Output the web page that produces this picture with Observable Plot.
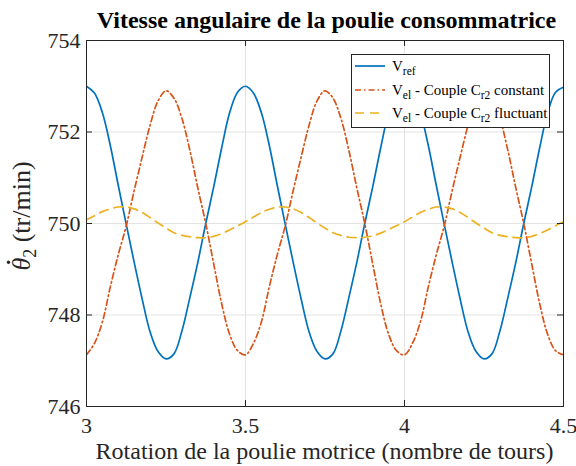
<!DOCTYPE html>
<html>
<head>
<meta charset="utf-8">
<script src="https://cdn.jsdelivr.net/npm/d3@7"></script>
<script src="https://cdn.jsdelivr.net/npm/@observablehq/plot@0.6"></script>
<style>
  html, body { margin: 0; padding: 0; background: #ffffff; }
  #chart { width: 576px; height: 466px; }
</style>
</head>
<body>
<div id="chart"></div>
<script>
// ---- Data ----
const xTurns = [
  3.000, 3.025, 3.050, 3.075, 3.100, 3.125, 3.150, 3.175, 3.200, 3.225,
  3.250, 3.275, 3.300, 3.325, 3.350, 3.375, 3.400, 3.425, 3.450, 3.475,
  3.500, 3.525, 3.550, 3.575, 3.600, 3.625, 3.650, 3.675, 3.700, 3.725,
  3.750, 3.775, 3.800, 3.825, 3.850, 3.875, 3.900, 3.925, 3.950, 3.975,
  4.000, 4.025, 4.050, 4.075, 4.100, 4.125, 4.150, 4.175, 4.200, 4.225,
  4.250, 4.275, 4.300, 4.325, 4.350, 4.375, 4.400, 4.425, 4.450, 4.475,
  4.500
];
const vRef = [
  753.00, 752.85, 752.42, 751.70, 750.83, 749.98, 749.15, 748.35, 747.63, 747.20,
  747.04, 747.15, 747.65, 748.38, 749.15, 750.00, 750.80, 751.65, 752.42, 752.87,
  753.00, 752.85, 752.42, 751.70, 750.83, 749.98, 749.15, 748.35, 747.63, 747.20,
  747.04, 747.15, 747.65, 748.38, 749.15, 750.00, 750.80, 751.65, 752.42, 752.87,
  753.00, 752.85, 752.42, 751.70, 750.83, 749.98, 749.15, 748.35, 747.63, 747.20,
  747.04, 747.15, 747.65, 748.38, 749.15, 750.00, 750.80, 751.65, 752.42, 752.87,
  752.98
];
const vElConst = [
  747.13, 747.38, 747.85, 748.62, 749.32, 749.95, 750.72, 751.45, 752.15, 752.68,
  752.90, 752.74, 752.30, 751.60, 750.78, 750.00, 749.12, 748.25, 747.58, 747.22,
  747.13, 747.38, 747.85, 748.62, 749.32, 749.95, 750.72, 751.45, 752.15, 752.68,
  752.90, 752.74, 752.30, 751.60, 750.78, 750.00, 749.12, 748.25, 747.58, 747.22,
  747.13, 747.38, 747.85, 748.62, 749.32, 749.95, 750.72, 751.45, 752.15, 752.68,
  752.90, 752.74, 752.30, 751.60, 750.78, 750.00, 749.12, 748.25, 747.58, 747.22,
  747.13
];
const vElFluct = [
  750.08, 750.17, 750.26, 750.32, 750.36, 750.36, 750.32, 750.24, 750.13, 750.01,
  749.90, 749.80, 749.74, 749.71, 749.69, 749.69, 749.72, 749.78, 749.86, 749.95,
  750.04, 750.14, 750.24, 750.31, 750.36, 750.36, 750.32, 750.24, 750.13, 750.01,
  749.90, 749.80, 749.74, 749.70, 749.69, 749.70, 749.73, 749.79, 749.87, 749.95,
  750.04, 750.14, 750.24, 750.31, 750.36, 750.36, 750.32, 750.24, 750.13, 750.01,
  749.90, 749.80, 749.74, 749.71, 749.69, 749.69, 749.72, 749.78, 749.86, 749.95,
  750.04
];
const xTicks = [3, 3.5, 4, 4.5];
const yTicks = [746, 748, 750, 752, 754];
const seriesNames = ["ref", "const", "fluct"];

// ---- Build table ----
const rows = [];
xTurns.forEach((x, i) => {
  rows.push({x, y: vRef[i], s: "ref"});
  rows.push({x, y: vElConst[i], s: "const"});
  rows.push({x, y: vElFluct[i], s: "fluct"});
});

const W = 576, H = 466;
const mL = 86, mR = 13, mT = 40, mB = 60;
const innerH = H - mT - mB, innerW = W - mL - mR;
const axisColor = "#262626";
const serif = "'Liberation Serif', 'Times New Roman', serif";
const colors = {ref: "#0072BD", const: "#D95319", fluct: "#EDB120"};
const dashes = {ref: null, const: "6,3,1.5,3", fluct: "9,6"};

const svg = Plot.plot({
  width: W, height: H,
  marginLeft: mL, marginRight: mR, marginTop: mT, marginBottom: mB,
  style: {fontFamily: serif, background: "#ffffff", color: axisColor},
  x: {domain: [3, 4.5]},
  y: {domain: [746, 754]},
  marks: [
    Plot.gridX(xTicks, {stroke: "#e3e3e3", strokeOpacity: 1, strokeWidth: 1}),
    Plot.gridY(yTicks, {stroke: "#e3e3e3", strokeOpacity: 1, strokeWidth: 1}),
    ...seriesNames.map(s => Plot.line(rows.filter(d => d.s === s), {
      x: "x", y: "y", stroke: colors[s], strokeWidth: 1.7,
      strokeDasharray: dashes[s], curve: "catmull-rom", clip: true
    })),
    // inward ticks, all four sides
    Plot.ruleX(xTicks, {stroke: axisColor, insetTop: innerH - 6}),
    Plot.ruleX(xTicks, {stroke: axisColor, insetBottom: innerH - 6}),
    Plot.ruleY(yTicks, {stroke: axisColor, insetRight: innerW - 6}),
    Plot.ruleY(yTicks, {stroke: axisColor, insetLeft: innerW - 6}),
    Plot.frame({stroke: axisColor, strokeWidth: 1}),
    Plot.axisX(xTicks, {tickSize: 0, tickPadding: 11, tickFormat: d => String(d),
      fontSize: 22, label: null, fill: axisColor}),
    Plot.axisY(yTicks, {tickSize: 0, tickPadding: 6, tickFormat: d => String(d),
      fontSize: 22, label: null, fill: axisColor})
  ]
});
document.getElementById("chart").appendChild(svg);

const g = d3.select(svg);
// Title
g.append("text")
  .attr("x", mL + innerW / 2 + 2).attr("y", 28)
  .attr("text-anchor", "middle")
  .attr("font-family", serif).attr("font-weight", "bold").attr("font-size", 24)
  .attr("fill", "#000")
  .text("Vitesse angulaire de la poulie consommatrice");
// X label
g.append("text")
  .attr("x", mL + innerW / 2).attr("y", 459)
  .attr("text-anchor", "middle")
  .attr("font-family", serif).attr("font-size", 24)
  .attr("fill", axisColor)
  .text("Rotation de la poulie motrice (nombre de tours)");

// Y label (rotated), with a dot over theta
const yg = g.append("g").attr("transform", `translate(30, 216) rotate(-90)`);
const yl = yg.append("text")
  .attr("x", 0).attr("y", 0)
  .attr("text-anchor", "start")
  .attr("font-family", serif).attr("font-size", 26)
  .attr("fill", axisColor);
const th = yl.append("tspan").attr("font-style", "italic").text("\u03B8");
yl.append("tspan").attr("dy", 6).attr("font-size", 18).text("2");
yl.append("tspan").attr("dy", -6).text(" (tr/min)");
const total = yl.node().getComputedTextLength();
const thW = th.node().getComputedTextLength();
yl.attr("x", -total / 2);
yg.append("circle")
  .attr("cx", -total / 2 + thW / 2 + 2).attr("cy", -21.5).attr("r", 1.7)
  .attr("fill", axisColor);

// Legend
const lg = g.append("g");
lg.append("rect").attr("x", 351.5).attr("y", 54.5).attr("width", 198).attr("height", 73)
  .attr("fill", "#ffffff").attr("stroke", axisColor).attr("stroke-width", 1);
const legendRows = [
  {s: "ref", sub: "ref", rest: null, sub2: null, tail: null, y: 71},
  {s: "const", sub: "el", rest: " - Couple C", sub2: "r2", tail: " constant", y: 95},
  {s: "fluct", sub: "el", rest: " - Couple C", sub2: "r2", tail: " fluctuant", y: 118}
];
legendRows.forEach(r => {
  lg.append("line").attr("x1", 355).attr("x2", 385).attr("y1", r.y - 5).attr("y2", r.y - 5)
    .attr("stroke", colors[r.s]).attr("stroke-width", 1.7)
    .attr("stroke-dasharray", dashes[r.s]);
  const t = lg.append("text").attr("x", 392).attr("y", r.y)
    .attr("text-anchor", "start")
    .attr("font-family", serif).attr("font-size", 15).attr("fill", "#000");
  t.append("tspan").text("V");
  t.append("tspan").attr("dy", 4).attr("font-size", 11.5).text(r.sub);
  if (r.rest) {
    t.append("tspan").attr("dy", -4).text(r.rest);
    t.append("tspan").attr("dy", 4).attr("font-size", 11.5).text(r.sub2);
    t.append("tspan").attr("dy", -4).text(r.tail);
  }
});
</script>
</body>
</html>
